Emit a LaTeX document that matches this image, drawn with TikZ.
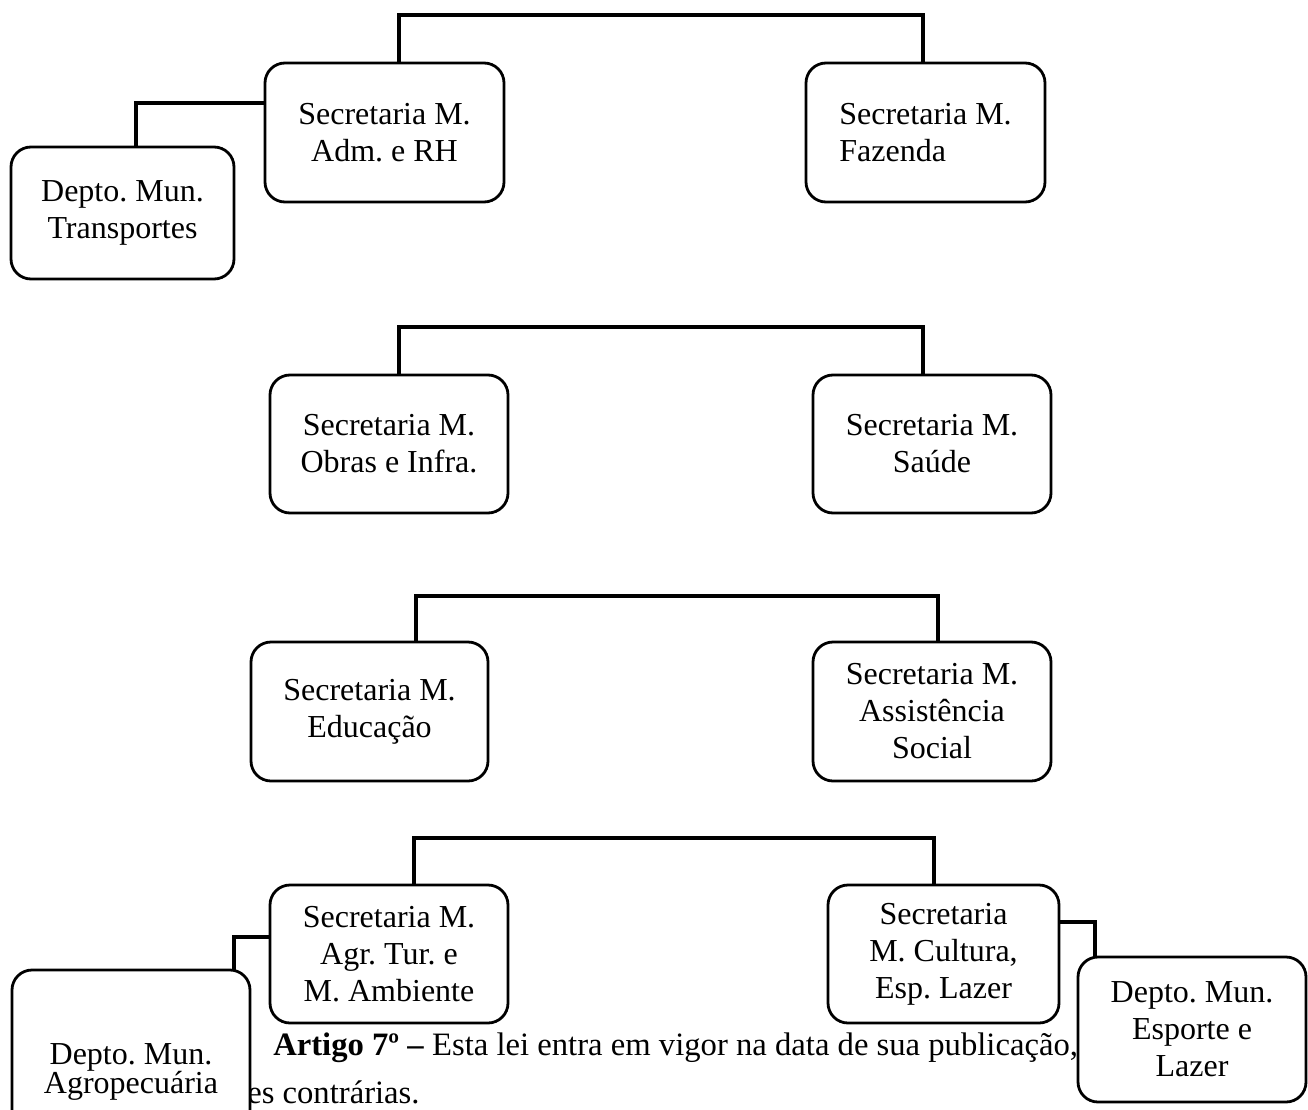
\documentclass[tikz,border=0pt]{standalone}
\usepackage{fontspec}
\setmainfont{Liberation Serif}
\frenchspacing
\begin{document}
\begin{tikzpicture}[x=0.75pt,y=-0.75pt,
  box/.style={draw, line width=2.1pt, rounded corners=15pt, fill=white,
    align=center, inner sep=0pt, font=\fontsize{24}{27.75}\selectfont\frenchspacing},
  conn/.style={line width=2.6pt, line cap=rect},
  body/.style={anchor=base west, inner sep=0pt, font=\fontsize{24.5}{28}\selectfont\frenchspacing}]
\useasboundingbox (0,0) rectangle (1308,1109);
% body text (behind boxes)
\node[body] (art) at (273,1055) {\textbf{Artigo 7º –} Esta lei entra em vigor na data de sua publicação,};
\node[body] (rev) at (247,1103) {es contrárias.};
% boxes
\node[box, minimum width=179.25pt, minimum height=104.25pt] (adm) at (384.5,132.5) {Secretaria M.\\Adm. e RH};
\node[box, align=left, minimum width=179.25pt, minimum height=104.25pt] (faz) at (925.5,132.5) {Secretaria M.\\Fazenda};
\node[box, minimum width=167.25pt, minimum height=99pt] (trans) at (122.5,213) {Depto. Mun.\\Transportes};
\node[box, minimum width=178.5pt, minimum height=103.5pt] (obras) at (389,444) {Secretaria M.\\Obras e Infra.};
\node[box, minimum width=178.5pt, minimum height=103.5pt] (saude) at (932,444) {Secretaria M.\\Saúde};
\node[box, minimum width=177.75pt, minimum height=104.25pt] (educ) at (369.5,711.5) {Secretaria M.\\Educação};
\node[box, minimum width=178.5pt, minimum height=104.25pt] (assist) at (932,711.5) {Secretaria M.\\Assistência\\Social};
\node[box, minimum width=178.5pt, minimum height=103.5pt] (agr) at (389,954) {Secretaria M.\\Agr. Tur. e\\M. Ambiente};
\node[box, minimum width=173.25pt, minimum height=103.5pt] (cult) at (943.5,954) {Secretaria\\M. Cultura,\\Esp. Lazer};
\node[box, minimum width=178.5pt, minimum height=153pt] (agrop) at (131,1072) {Depto. Mun.\\[-5.5pt]Agropecuária};
\node[box, minimum width=171pt, minimum height=108.75pt] (esp) at (1192,1029.5) {Depto. Mun.\\Esporte e\\Lazer};
% connector coordinates
\coordinate (t1) at (399,15);  \coordinate (t2) at (923,15);
\coordinate (o1) at (399,327); \coordinate (o2) at (923,327);
\coordinate (e1) at (416,596); \coordinate (e2) at (938,596);
\coordinate (a1) at (414,838); \coordinate (a2) at (934,838);
\coordinate (c1) at (136,103);
\coordinate (c2) at (234,937);
\coordinate (c3) at (1095,922);
% connectors
\draw[conn] (t1 |- adm.north) -- (t1) -- (t2) -- (t2 |- faz.north);
\draw[conn] (o1 |- obras.north) -- (o1) -- (o2) -- (o2 |- saude.north);
\draw[conn] (e1 |- educ.north) -- (e1) -- (e2) -- (e2 |- assist.north);
\draw[conn] (a1 |- agr.north) -- (a1) -- (a2) -- (a2 |- cult.north);
\draw[conn] (adm.west |- c1) -- (c1) -- (c1 |- trans.north);
\draw[conn] (agr.west |- c2) -- (c2) -- (c2 |- agrop.north);
\draw[conn] (cult.east |- c3) -- (c3) -- (c3 |- esp.north);
\end{tikzpicture}
\end{document}
